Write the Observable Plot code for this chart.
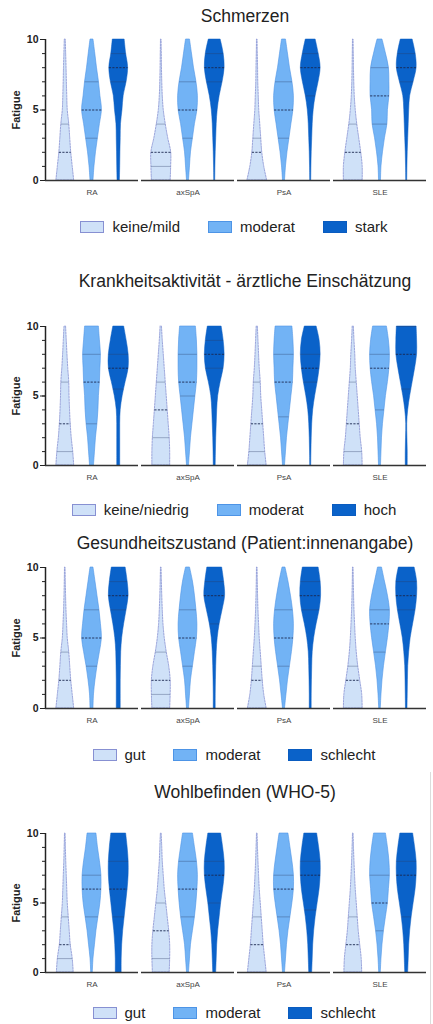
<!DOCTYPE html>
<html><head><meta charset="utf-8">
<script src="https://cdn.jsdelivr.net/npm/d3@7"></script>
<script src="https://cdn.jsdelivr.net/npm/@observablehq/plot@0.6"></script>
<style>
body{margin:0;background:#fff;font-family:"Liberation Sans",Arial,sans-serif;}
#root{position:relative;width:433px;height:1024px;overflow:hidden;background:#fff}
.title{position:absolute;left:60px;width:370px;text-align:center;font-size:17.5px;color:#222;line-height:20px;white-space:nowrap}
.legend{position:absolute;left:41px;width:386px;display:flex;justify-content:center;align-items:center;gap:28px;font-size:15px;color:#222;line-height:18px;height:18px}
.item{display:flex;align-items:center;gap:8px}
.sw{width:24px;height:12px;box-sizing:border-box;border:1px solid}
.panel{position:absolute;left:0}
.ylab{position:absolute;font-size:11px;font-weight:bold;color:#222;transform:translate(-50%,-50%) rotate(-90deg);white-space:nowrap}
</style></head><body><div id="root"></div><script>
// ---------- data ----------
const diseases = ["RA", "axSpA", "PsA", "SLE"];
const levels = [0,1,2,3,4,5,6,7,8,9,10];
const yTicks = [0, 5, 10];
const yLabel = "Fatigue";

const titles = [
  "Schmerzen",
  "Krankheitsaktivität - ärztliche Einschätzung",
  "Gesundheitszustand (Patient:innenangabe)",
  "Wohlbefinden (WHO-5)"
];
const legend1 = ["keine/mild", "moderat", "stark"];
const legend2 = ["keine/niedrig", "moderat", "hoch"];
const legend3 = ["gut", "moderat", "schlecht"];
const legend4 = ["gut", "moderat", "schlecht"];

// violin density (relative width) at fatigue 0..10; rows: RA(l,m,h), axSpA(l,m,h), PsA(l,m,h), SLE(l,m,h)
const density1 = [
  [9,7.5,6,5,4,2.5,2,1.6,1.3,0.9,0.5],
  [1.5,2.5,4,6,8,10,8.5,7,5,3.3,1.5],
  [1.2,1.5,1.7,2,2.3,3.8,5,8,9.5,7.5,6],
  [9.5,10,10,7,4.5,2.5,1.5,1,0.7,0.5,0.3],
  [1,2,3,5,7,9.5,10,8.5,6,4,2],
  [0.5,0.7,1,1.5,2,3,5,8,10,9,6],
  [10,7,5,4,3,2,1.5,1,0.8,0.5,0.3],
  [1,2,3.5,5.5,7.5,9.5,10,8.5,6,4,2],
  [0.5,0.7,1,1.5,2,3,5,8,10,8,5],
  [9.5,9.5,8,6,4,2.5,1.5,1,0.7,0.5,0.3],
  [1,1.5,3,5,7.5,8,9.5,9.5,9,6,2.5],
  [0.5,0.7,1,1.5,2,2.5,3.5,7,10,9,6]
];
const quart1 = [[0,2,4],[3,5,7],[7,8,9],[1,2,4],[3,5,7],[7,8,9],[0,2,3],[3,5,7],[6,8,9],[0,2,4],[4,6,8],[7,8,9]];

const density2 = [
  [9,8,6.5,5.5,4.8,4.3,4,3,2.2,1.5,0.8],
  [2,3,4,5.5,6.5,7,8,8.5,9,8,7],
  [1.5,1.5,1.5,1.5,2,4,7,10,10,8,5.5],
  [9,9,8.5,7.5,6.5,5.5,4.5,3.5,2.5,1.5,0.7],
  [1,2,3,4.5,6,7.5,9,9.5,9.5,9,8],
  [1,1.2,1.5,2,2.5,3.5,6,9,10,9,7],
  [9.5,8,7,6,5,4,3.5,2.5,1.8,1.2,0.6],
  [1,2,3,4.5,6,7.5,9,9.5,10,9.5,8.5],
  [0.5,0.7,1,1.5,2.5,4.5,7,9,10,9,6],
  [9.5,9,7.5,6.5,5.5,4.5,3.5,2.5,2,1.2,0.6],
  [1,1.5,2,3,4.5,6,8,9.5,10,9,7],
  [1,1,0.7,0.5,1.5,3.5,6,8.5,10.5,10.5,10]
];
const quart2 = [[1,3,6],[3,6,8],[5.5,7,8],[2,4,6],[5,6,8],[7,8,9],[1,3,6],[3.5,6,8],[6,7,8],[1,3,6],[4,7,8],[5.5,8,10]];

const density3 = [
  [9,7.5,6,5,4,2.5,1.8,1.2,0.8,0.5,0.3],
  [1.5,2,3.5,5.5,8,10,9,7.5,5.5,3.5,1.5],
  [2,2,2,2.2,2.5,3.5,5.5,8,10,9,7],
  [9,9.5,9.5,8,5.5,3.5,2.2,1.5,1,0.6,0.3],
  [1,2,3,5,7,9,9.5,8.5,7,5,2],
  [1,1,1.2,1.5,2,3,5,8,10.5,9.5,7.5],
  [9.5,7,5.5,4.5,3.5,2.5,1.8,1.2,0.8,0.5,0.3],
  [1,2.5,4,6,8,9.5,10,9,7,4.5,1.5],
  [1,1,1.2,1.5,2,3.5,6,9,10.5,10,8],
  [9.5,9,7,5,3.5,2.5,1.8,1.2,0.8,0.5,0.3],
  [0.8,1.5,2.5,4,6,8,9.5,10,8,5,2],
  [0.8,1,1.2,1.5,2.5,4,6.5,9,10.5,10.5,8]
];
const quart3 = [[0,2,4],[3,5,7],[7,8,9],[1,2,4],[3,5,7],[6,8,9],[0,2,3],[3,5,7],[7,8,9],[0,2,3],[4,6,7],[7,8,9]];

const density4 = [
  [8.5,7.5,5.5,4.5,3.5,2.5,2,1.5,1,0.6,0.3],
  [0.8,1.5,3,4.5,6.5,8.5,9.5,9.5,8,6,4.5],
  [3,3,3.5,4.5,6,7.5,9,10,10,9,7.5],
  [8.5,9,9,8,6.5,5,3.5,2.5,1.5,1,0.4],
  [1,2,3,5,7,8.5,9.5,10,9,7,5],
  [1.5,2,2.5,3.5,5,6.5,8.5,10,10,8.5,6.5],
  [9.5,8,6.5,5.5,4.5,3.5,2.5,1.8,1.2,0.7,0.3],
  [1,2,3,4.5,6.5,8.5,10,10,8.5,6.5,4.5],
  [1.5,2,2.5,3.5,5,7,9,10,10,8.5,6.5],
  [9,8.5,7,5.5,4.5,3.5,2.5,1.8,1.2,0.7,0.3],
  [0.8,1.5,2.5,4,6,8,9,10,9.5,8,6],
  [1.5,2,2.5,3.5,5,7,9,10,10,8.5,6.5]
];
const quart4 = [[1,2,4],[4,6,7],[4,6,8],[1,3,5],[4,6,8],[5,7,8],[0,2,4],[4,6,7],[4.5,7,8],[0,2,4],[3,5,7],[4,7,8]];

// ---------- styles & layout ----------
const fills = ["#cfe1f8", "#72b3f5", "#0a62c9"];
const outlines = ["#8790d2", "#4d94e6", "#0a5cc0"];
const outlineDash = ["2,1.2", null, null];
const outlineWidth = [0.8, 0.6, 0.5];
const layout = [ // y of 10, y of 0, title centre, legend centre
  {y10: 39, y0: 180, ty: 16, ly: 227},
  {y10: 326, y0: 465, ty: 281, ly: 510},
  {y10: 567, y0: 708, ty: 543, ly: 755},
  {y10: 833, y0: 972, ty: 792, ly: 1013}
];
const xDomain = [-0.74, 2.74];
const widthScale = 0.037;

const panels = [
  {title: titles[0], legend: legend1, density: density1, quart: quart1},
  {title: titles[1], legend: legend2, density: density2, quart: quart2},
  {title: titles[2], legend: legend3, density: density3, quart: quart3},
  {title: titles[3], legend: legend4, density: density4, quart: quart4}
];

function interp(arr, v) {
  const i = Math.floor(v), f = v - i;
  if (i >= arr.length - 1) return arr[arr.length - 1];
  return arr[i] * (1 - f) + arr[i + 1] * f;
}

const root = document.getElementById("root");

panels.forEach((p, pi) => {
  const L = layout[pi];
  const cats = p.legend.map((l, i) => `${i}:${l}`);
  const rows = [], stats = [];
  diseases.forEach((d, di) => [0,1,2].forEach(ci => {
    const w = p.density[di * 3 + ci];
    levels.forEach((v, li) => rows.push({disease: d, cat: cats[ci], ci, v, w: w[li]}));
    p.quart[di * 3 + ci].forEach((q, qi) => stats.push({disease: d, ci, v: q, w: interp(w, q), median: qi === 1}));
  }));

  const mt = 8, mb = 26;
  const h = L.y0 - L.y10;
  const marks = [];
  [0,1,2].forEach(ci => {
    marks.push(Plot.areaX(rows.filter(r => r.ci === ci), {
      fx: "disease", y: "v",
      x1: r => r.ci - r.w * widthScale, x2: r => r.ci + r.w * widthScale,
      fill: "cat", z: "disease",
      stroke: outlines[ci], strokeWidth: outlineWidth[ci], strokeDasharray: outlineDash[ci],
      curve: "catmull-rom"
    }));
  });
  marks.push(
    Plot.ruleY(stats.filter(s => !s.median), {
      fx: "disease", y: "v",
      x1: s => s.ci - s.w * widthScale, x2: s => s.ci + s.w * widthScale,
      stroke: "#2c3d66", strokeWidth: 0.6, strokeOpacity: 0.6
    }),
    Plot.ruleY(stats.filter(s => s.median), {
      fx: "disease", y: "v",
      x1: s => s.ci - s.w * widthScale, x2: s => s.ci + s.w * widthScale,
      stroke: "#1b2850", strokeWidth: 0.9, strokeDasharray: "2.2,1.3"
    }),
    Plot.ruleY([0], {stroke: "#333", strokeWidth: 1.6}),
    Plot.ruleX([diseases[0]], {fx: d => d, x: () => xDomain[0], y1: 0, y2: 10, stroke: "#222", strokeWidth: 1.5}),
    Plot.axisY({ticks: levels, tickSize: 3, tickFormat: () => "", label: null, stroke: "#222"}),
    Plot.axisY({ticks: yTicks, tickSize: 5, tickPadding: 2, label: null, fontSize: 10.5, fontWeight: "bold", fill: "#222", stroke: "#222"}),
    Plot.axisFx({anchor: "bottom", tickSize: 0, tickPadding: 9, label: null, fontSize: 8, fill: "#444"})
  );

  const chart = Plot.plot({
    width: 433, height: h + mt + mb,
    marginLeft: 44, marginRight: 5, marginTop: mt, marginBottom: mb,
    fx: {domain: diseases, paddingInner: 0.03, paddingOuter: 0, label: null, axis: null},
    x: {domain: xDomain, axis: null},
    y: {domain: [0, 10], axis: null},
    color: {domain: cats, range: fills},
    style: {fontFamily: "'Liberation Sans', Arial, sans-serif", background: "transparent", overflow: "visible"},
    marks
  });
  const wrap = document.createElement("div");
  wrap.className = "panel";
  wrap.style.top = (L.y10 - mt) + "px";
  wrap.appendChild(chart);
  root.appendChild(wrap);

  const t = document.createElement("div");
  t.className = "title";
  t.textContent = p.title;
  t.style.top = (L.ty - 10) + "px";
  root.appendChild(t);

  const yl = document.createElement("div");
  yl.className = "ylab";
  yl.textContent = yLabel;
  yl.style.left = "16px";
  yl.style.top = ((L.y10 + L.y0) / 2) + "px";
  root.appendChild(yl);

  const lg = document.createElement("div");
  lg.className = "legend";
  lg.style.top = (L.ly - 9) + "px";
  p.legend.forEach((lab, i) => {
    const it = document.createElement("div");
    it.className = "item";
    const sw = document.createElement("div");
    sw.className = "sw";
    sw.style.background = fills[i];
    sw.style.borderColor = outlines[i];
    const tx = document.createElement("span");
    tx.textContent = lab;
    it.appendChild(sw); it.appendChild(tx);
    lg.appendChild(it);
  });
  root.appendChild(lg);
});

const edge = document.createElement("div");
edge.style.cssText = "position:absolute;left:430px;top:772px;width:1px;height:252px;background:#dcdcdc";
root.appendChild(edge);
</script></body></html>
